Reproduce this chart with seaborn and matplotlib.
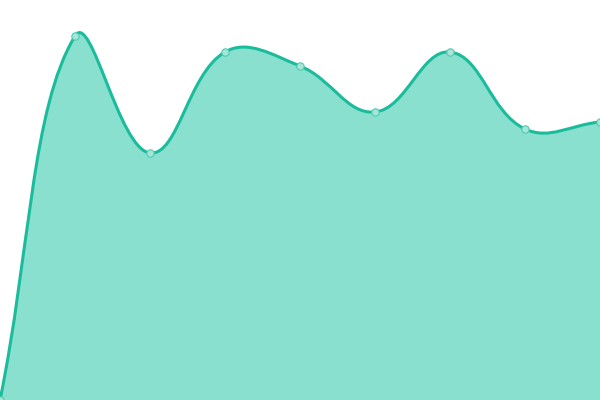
"""
Smooth filled area chart (no axes), turquoise line with small point markers.
"""

import numpy as np
import matplotlib
matplotlib.use('Agg')
import matplotlib.pyplot as plt
from matplotlib.path import Path
from matplotlib.patches import PathPatch
import seaborn as sns
import pandas as pd

# Data
labels = ['A', 'B', 'C', 'D', 'E', 'F', 'G', 'H', 'I']
values = [0, 91, 61.75, 87, 83.5, 72, 87, 67.75, 69.5]

LINE_COLOR = '#1abc9c'
FILL_COLOR = '#8ae0cf'
POINT_FACE = '#a6e6d9'
POINT_EDGE = '#4fcbb0'
TENSION = 0.4


def spline_controls(px, py, tension):
    """Control points for a tension spline, computed in pixel space."""
    n = len(px)
    prev_cp = []
    next_cp = []
    for i in range(n):
        x0, y0 = (px[i - 1], py[i - 1]) if i > 0 else (px[i], py[i])
        x1, y1 = px[i], py[i]
        x2, y2 = (px[i + 1], py[i + 1]) if i < n - 1 else (px[i], py[i])
        d01 = np.hypot(x1 - x0, y1 - y0)
        d12 = np.hypot(x2 - x1, y2 - y1)
        tot = d01 + d12
        s01 = d01 / tot if tot else 0
        s12 = d12 / tot if tot else 0
        fa = tension * s01
        fb = tension * s12
        prev_cp.append((x1 - fa * (x2 - x0), y1 - fa * (y2 - y0)))
        next_cp.append((x1 + fb * (x2 - x0), y1 + fb * (y2 - y0)))
    return prev_cp, next_cp


sns.set_theme(style='white')

fig = plt.figure(figsize=(6, 4), dpi=100)
ax = fig.add_axes([0, 0, 1, 1])
ax.set_xlim(0, len(values) - 1)
ax.set_ylim(0, 100)
ax.axis('off')

df = pd.DataFrame({'idx': np.arange(len(values)), 'label': labels, 'value': values})

# spline in pixel space, then back to data coordinates
pix = ax.transData.transform(np.column_stack([df['idx'], df['value']]))
prev_cp, next_cp = spline_controls(pix[:, 0], pix[:, 1], TENSION)
inv = ax.transData.inverted()

verts = [tuple(inv.transform(pix[0]))]
codes = [Path.MOVETO]
for i in range(1, len(values)):
    c1 = inv.transform(next_cp[i - 1])
    c2 = inv.transform(prev_cp[i])
    c1[1] = np.clip(c1[1], 0, 100)
    c2[1] = np.clip(c2[1], 0, 100)
    verts += [tuple(c1), tuple(c2), (df['idx'][i], df['value'][i])]
    codes += [Path.CURVE4] * 3

line_path = Path(verts, codes)
fill_path = Path(verts + [(df['idx'].iloc[-1], 0), (df['idx'][0], 0), verts[0]],
                 codes + [Path.LINETO, Path.LINETO, Path.CLOSEPOLY])

ax.add_patch(PathPatch(fill_path, facecolor=FILL_COLOR, edgecolor='none', zorder=1))
ax.add_patch(PathPatch(line_path, facecolor='none', edgecolor=LINE_COLOR,
                       linewidth=2.2, zorder=2, capstyle='round'))

sns.scatterplot(data=df, x='idx', y='value', ax=ax, s=28, color=POINT_FACE,
                edgecolor=POINT_EDGE, linewidth=0.8, zorder=3, legend=False)

ax.set_xlim(0, len(values) - 1)
ax.set_ylim(0, 100)
ax.axis('off')

fig.savefig('out.png', dpi=100)
